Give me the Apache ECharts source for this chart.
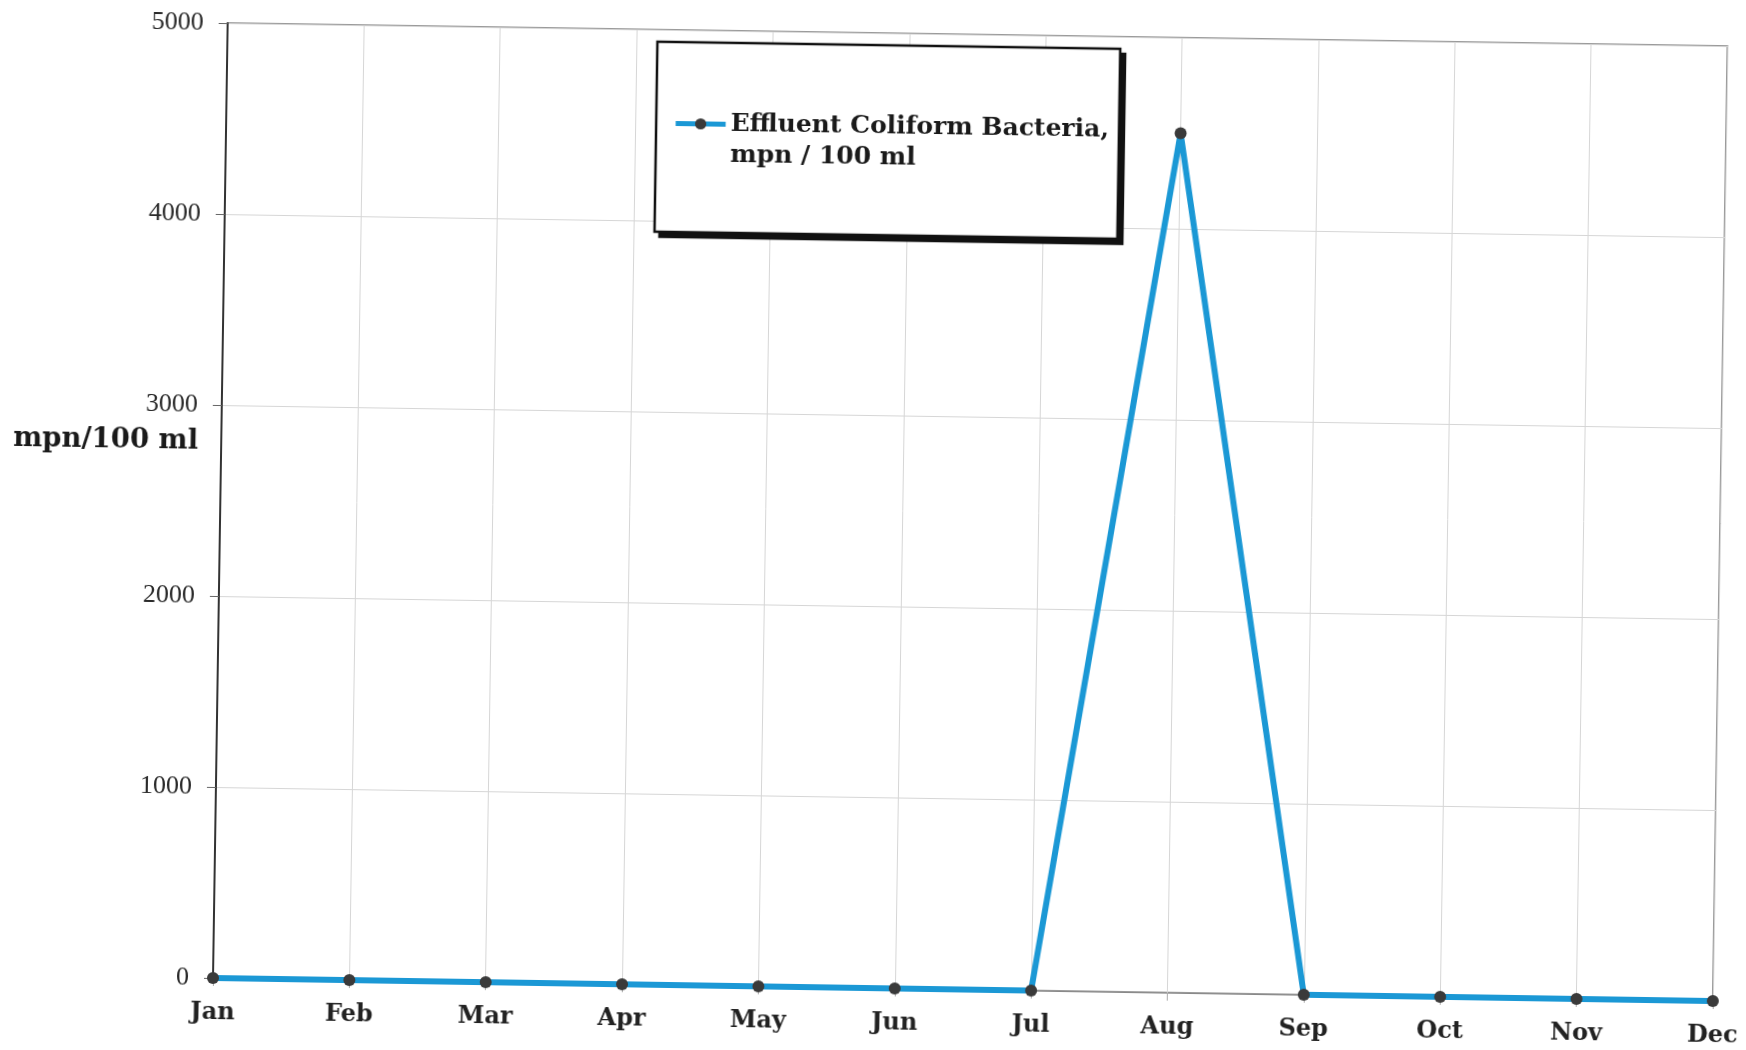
<!DOCTYPE html>
<html>
<head>
<meta charset="utf-8">
<script src="https://cdn.jsdelivr.net/npm/echarts@6/dist/echarts.min.js"></script>
<style>
  html, body { margin: 0; padding: 0; background: #fff; }
  #chart {
    width: 1746px; height: 1050px;
    /* the printed sheet sits slightly askew */
    transform: rotate(0.88deg);
    transform-origin: 213px 978px;
  }
</style>
</head>
<body>
<div id="chart"></div>
<script>
const months = ['Jan', 'Feb', 'Mar', 'Apr', 'May', 'Jun', 'Jul', 'Aug', 'Sep', 'Oct', 'Nov', 'Dec'];
const coliform = [0, 0, 0, 0, 0, 0, 0, 4500, 0, 0, 0, 0];
const seriesName = 'Effluent Coliform Bacteria,\nmpn / 100 ml';
const yTitle = 'mpn/100 ml';

const BLUE = '#1b98d5';
const DOT = '#3a3a3a';
const boldSerif = 'DejaVu Serif';

const yTitleGraphic = {
  type: 'text',
  left: 5, top: 428,
  style: { text: yTitle, fontFamily: boldSerif, fontWeight: 'bold', fontSize: 27.5, fill: '#1a1a1a' }
};

const chart = echarts.init(document.getElementById('chart'), null, { renderer: 'canvas' });
chart.setOption({
  backgroundColor: '#ffffff',
  animation: false,
  grid: {
    left: 213, top: 23, width: 1500, height: 955,
    show: true, borderColor: '#7a7a7a', borderWidth: 1.5, backgroundColor: 'transparent'
  },
  legend: {
    left: 643, top: 35,
    orient: 'vertical',
    backgroundColor: '#ffffff',
    borderColor: '#111', borderWidth: 2.5,
    padding: [35, 10, 62, 17],
    itemWidth: 50, itemHeight: 14,
    lineStyle: { width: 5 },
    data: [seriesName],
    // leading blank line keeps the first text line level with the icon
    formatter: name => ' \n' + name,
    textStyle: {
      fontFamily: boldSerif, fontWeight: 'bold', fontSize: 25, color: '#1a1a1a',
      lineHeight: 31
    }
  },
  xAxis: {
    type: 'category',
    data: months,
    boundaryGap: false,
    axisLine: { show: true, lineStyle: { color: '#888', width: 1 } },
    axisTick: { show: true, alignWithLabel: true, length: 8, lineStyle: { color: '#aaa' } },
    axisLabel: {
      interval: 0, margin: 23,
      fontFamily: boldSerif, fontWeight: 'bold', fontSize: 24, color: '#222'
    },
    splitLine: { show: true, interval: 0, lineStyle: { color: '#d6d6d6', width: 1 } }
  },
  yAxis: {
    type: 'value',
    min: 0, max: 5000, interval: 1000,
    axisLine: { show: true, lineStyle: { color: '#333', width: 2 } },
    axisTick: { show: true, length: 9, lineStyle: { color: '#666' } },
    axisLabel: {
      margin: 24,
      formatter: v => String(v),
      fontFamily: 'Liberation Serif', fontSize: 26, color: '#2a2a2a'
    },
    splitLine: { show: true, lineStyle: { color: '#d6d6d6', width: 1 } }
  },
  graphic: [yTitleGraphic],
  series: [{
    name: seriesName,
    type: 'line',
    data: coliform,
    symbol: 'circle',
    symbolSize: 12,
    itemStyle: { color: DOT },
    lineStyle: { color: BLUE, width: 6 },
    z: 5
  }]
});

// hard drop shadow behind the legend box (offset down and right)
(function addLegendShadow() {
  let box = { x: 643, y: 35, width: 466, height: 191 };
  try {
    const legendModel = chart.getModel().getComponent('legend');
    const view = chart.getViewOfComponentModel(legendModel);
    const r = view.group.getBoundingRect().clone();
    r.applyTransform(view.group.getLocalTransform());
    box = { x: r.x, y: r.y, width: r.width, height: r.height };
  } catch (e) { /* keep default box */ }
  const off = 5;
  chart.setOption({
    graphic: [yTitleGraphic, {
      type: 'rect',
      z: 3,
      shape: { x: box.x + off, y: box.y + off, width: box.width, height: box.height },
      style: { fill: '#111' }
    }]
  });
})();
</script>
</body>
</html>
